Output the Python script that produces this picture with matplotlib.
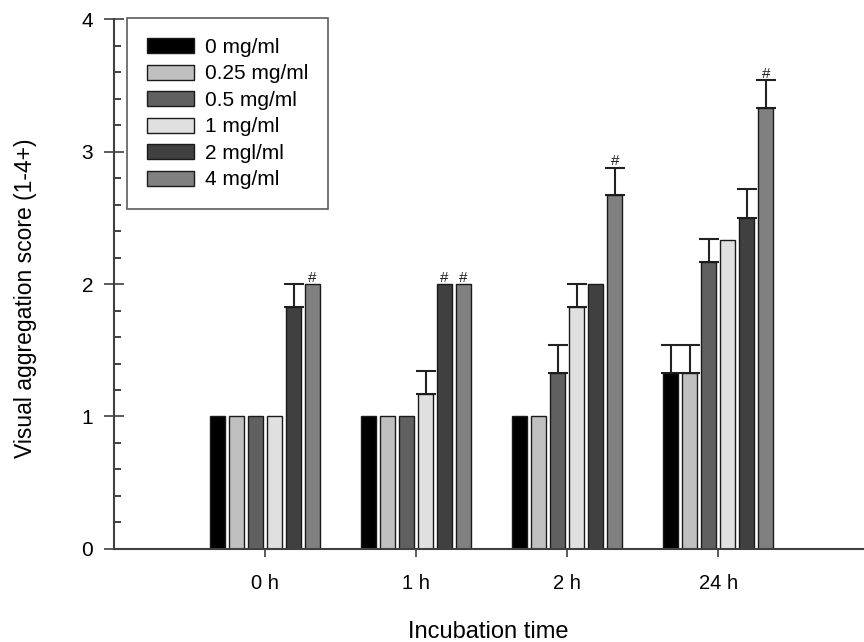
import matplotlib
matplotlib.use("Agg")
import matplotlib.pyplot as plt
import numpy as np
from matplotlib.ticker import MultipleLocator

plt.rcParams['font.family'] = ['Liberation Sans', 'DejaVu Sans']

times = ["0 h", "1 h", "2 h", "24 h"]
series_labels = ["0 mg/ml", "0.25 mg/ml", "0.5 mg/ml", "1 mg/ml", "2 mgl/ml", "4 mg/ml"]
colors = ["#000000", "#c0c0c0", "#606060", "#e0e0e0", "#404040", "#808080"]

values = [
    [1.0, 1.0, 1.0, 1.33],    # 0 mg/ml
    [1.0, 1.0, 1.0, 1.33],    # 0.25
    [1.0, 1.0, 1.33, 2.17],   # 0.5
    [1.0, 1.17, 1.83, 2.33],  # 1
    [1.83, 2.0, 2.0, 2.5],    # 2
    [2.0, 2.0, 2.67, 3.33],   # 4
]
errors = [
    [0, 0, 0, 0.21],
    [0, 0, 0, 0.21],
    [0, 0, 0.21, 0.17],
    [0, 0.17, 0.17, 0],
    [0.17, 0, 0, 0.22],
    [0, 0, 0.21, 0.21],
]
significant = [
    [False, False, False, False],
    [False, False, False, False],
    [False, False, False, False],
    [False, False, False, False],
    [False, True, False, False],
    [True, True, True, True],
]

fig = plt.figure(figsize=(8.64, 6.42), dpi=100)
ax = fig.add_axes([0.132, 0.145, 0.867, 0.825])

x = np.arange(len(times))
pitch = 0.126
width = 0.1
n = len(series_labels)
for i in range(n):
    xs = x + (i - (n - 1) / 2) * pitch
    ax.bar(xs, values[i], width=width, color=colors[i], edgecolor="#1a1a1a",
           linewidth=1.0, label=series_labels[i], zorder=2)
    for j in range(len(times)):
        top = values[i][j]
        if errors[i][j] > 0:
            ax.errorbar(xs[j], top, yerr=[[0], [errors[i][j]]], fmt='none',
                        ecolor="#222222", elinewidth=1.5, capsize=7.5, capthick=1.5, zorder=1)
            top += errors[i][j]
        if significant[i][j]:
            ax.text(xs[j], top - 0.005, "#", ha='center', va='bottom', fontsize=11, color="#222222")

ax.set_xlim(-1, 3.96)
ax.set_ylim(0, 4)
ax.set_xticks(x)
ax.set_xticklabels(times, fontsize=14.5)
ax.set_yticks([0, 1, 2, 3, 4])
ax.set_yticklabels(["0", "1", "2", "3", "4"], fontsize=15)
ax.yaxis.set_minor_locator(MultipleLocator(0.2))
ax.tick_params(axis='y', which='major', direction='inout', length=14, width=1.2, color="#404040", pad=8)
ax.tick_params(axis='y', which='minor', direction='in', length=5, width=1.2, color="#222222")
ax.tick_params(axis='x', which='major', direction='out', length=6, width=1.2, color="#404040", pad=12)

for s in ['top', 'right']:
    ax.spines[s].set_visible(False)
for s in ['left', 'bottom']:
    ax.spines[s].set_color("#404040")
    ax.spines[s].set_linewidth(1.5)

ax.set_ylabel("Visual aggregation score (1-4+)", fontsize=16.5, labelpad=32, y=0.474)
ax.set_xlabel("Incubation time", fontsize=17, labelpad=20)

leg = ax.legend(loc='upper left', bbox_to_anchor=(0.017, 1.002), fontsize=15, frameon=True,
                fancybox=False, edgecolor="#333333", handlelength=2.3, handleheight=0.75,
                handletextpad=0.5, labelspacing=0.36, borderpad=0.95, borderaxespad=0)
leg.get_frame().set_linewidth(1.2)

fig.savefig("out.png", dpi=100)
